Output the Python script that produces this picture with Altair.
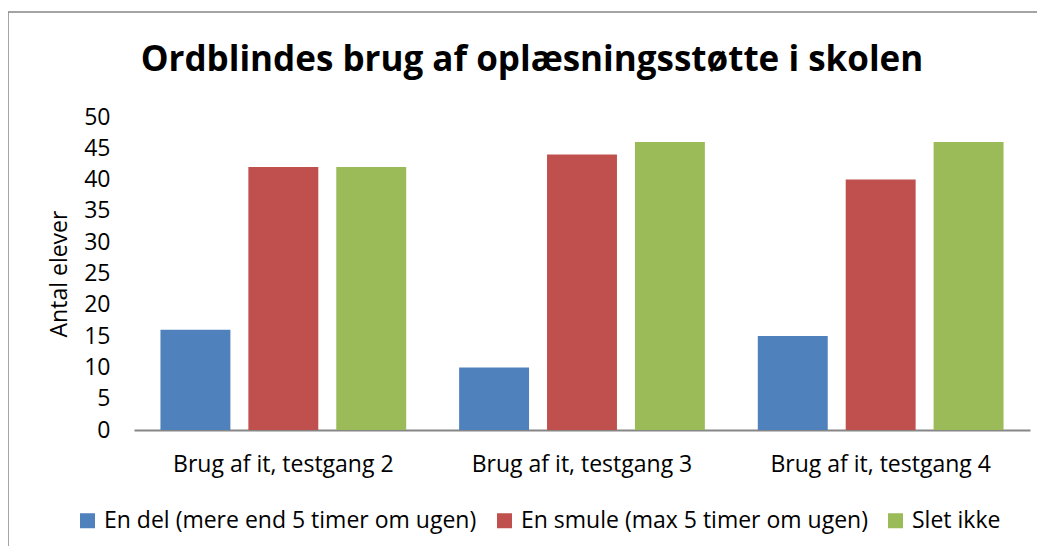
import altair as alt
import pandas as pd

categories = ["Brug af it, testgang 2", "Brug af it, testgang 3", "Brug af it, testgang 4"]
series = ["En del (mere end 5 timer om ugen)", "En smule (max 5 timer om ugen)", "Slet ikke"]
en_del = [16, 10, 15]
en_smule = [42, 44, 40]
slet_ikke = [42, 46, 46]
colors = ["#4F81BD", "#C0504D", "#9BBB59"]
y_ticks = [0, 5, 10, 15, 20, 25, 30, 35, 40, 45, 50]
title_text = "Ordblindes brug af oplæsningsstøtte i skolen"

rows = []
for s, vals in zip(series, [en_del, en_smule, slet_ikke]):
    for c, v in zip(categories, vals):
        rows.append({"cat": c, "series": s, "value": v})
df = pd.DataFrame(rows)

FONT = "Open Sans"
FS = 23

bars = alt.Chart(df).mark_bar().encode(
    x=alt.X("cat:N", sort=categories,
            scale=alt.Scale(paddingInner=0, paddingOuter=0),
            axis=alt.Axis(title=None, labelAngle=0, ticks=False, domain=True,
                          domainColor="#868686", domainWidth=2, labelLimit=600,
                          labelFontSize=FS, labelPadding=23, labelColor="#000000",
                          labelFont=FONT)),
    xOffset=alt.XOffset("series:N", sort=series,
                        scale=alt.Scale(paddingInner=0.2045, paddingOuter=0.301)),
    y=alt.Y("value:Q", scale=alt.Scale(domain=[0, 50]),
            axis=alt.Axis(title="Antal elever", values=y_ticks, grid=False, domain=False,
                          ticks=False, labelFontSize=FS, labelPadding=24,
                          labelColor="#000000", labelFont=FONT,
                          titleFontSize=FS, titleFont=FONT, titleFontWeight="normal",
                          titleColor="#000000", titlePadding=12)),
    color=alt.Color("series:N", sort=series,
                    scale=alt.Scale(domain=series, range=colors),
                    legend=alt.Legend(title=None, orient="none", direction="horizontal",
                                      legendX=-58, legendY=392,
                                      symbolType="square", symbolSize=225,
                                      symbolStrokeWidth=0,
                                      labelFontSize=FS, labelFont=FONT, labelLimit=600,
                                      labelColor="#000000", labelOffset=5,
                                      columnPadding=16)),
)

border = alt.Chart(alt.Data(values=[{}])).mark_rect(
    fill=None, stroke="#868686", strokeWidth=1.5
).encode(
    x=alt.value(-126), x2=alt.value(1000), y=alt.value(-105), y2=alt.value(800)
)

title = alt.Chart(alt.Data(values=[{}])).mark_text(
    text=title_text, font=FONT, fontSize=35, fontWeight="bold", color="#000000",
    align="center", baseline="alphabetic"
).encode(x=alt.value(398), y=alt.value(-46))

chart = alt.layer(border, title, bars).properties(
    width=896, height=313,
    autosize=alt.AutoSizeParams(type="none"),
    padding={"left": 126, "top": 109, "right": 7, "bottom": 116},
).configure_view(stroke=None)

chart.save("out.html", embed_options={"renderer": "svg", "actions": False})
